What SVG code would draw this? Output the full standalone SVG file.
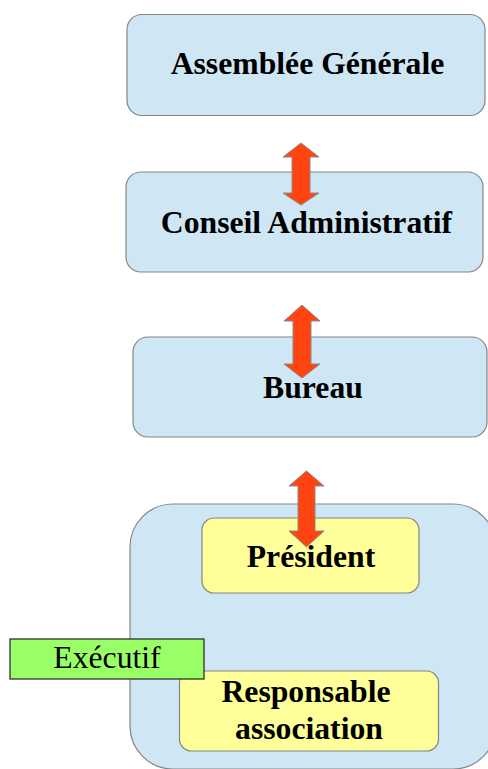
<svg xmlns="http://www.w3.org/2000/svg" width="488" height="769" viewBox="0 0 488 769">
  <style>
    .box { fill: #cfe6f4; stroke: #858585; stroke-width: 1.2; }
    .ybox { fill: #ffff99; stroke: #858585; stroke-width: 1.2; }
    .lbl { font-family: "Liberation Serif", "Times New Roman", serif; font-weight: bold; font-size: 31.7px; fill: #000; text-anchor: middle; }
    .arrow { fill: #ff4411; stroke: #8a8a8a; stroke-width: 1; }
  </style>
  <g id="assemblee">
    <rect class="box" x="127" y="14.5" width="358" height="101" rx="15"/>
    <text class="lbl" x="307.5" y="74">Assemblée Générale</text>
  </g>
  <g id="conseil">
    <rect class="box" x="126" y="172" width="357" height="100" rx="15"/>
    <text class="lbl" x="306.5" y="233">Conseil Administratif</text>
  </g>
  <g id="bureau">
    <rect class="box" x="133" y="337" width="354" height="100" rx="15"/>
    <text class="lbl" x="313" y="398">Bureau</text>
  </g>
  <g id="executif-group">
    <rect class="box" x="130" y="504" width="366" height="265" rx="43"/>
  </g>
  <g id="president">
    <rect class="ybox" x="202" y="518" width="217" height="75" rx="12"/>
    <text class="lbl" x="311" y="567">Président</text>
  </g>
  <g id="responsable">
    <rect class="ybox" x="179.5" y="671" width="259" height="80" rx="12"/>
    <text class="lbl" x="306" y="702">Responsable</text>
    <text class="lbl" x="309" y="739">association</text>
  </g>
  <g id="executif">
    <rect x="10" y="639" width="194" height="40" fill="#99ff66" stroke="#222" stroke-width="1.2"/>
    <text x="107" y="668" font-family="Liberation Serif, 'Times New Roman', serif" font-size="31.7" text-anchor="middle" fill="#000">Exécutif</text>
  </g>
  <g id="connectors">
    <polygon class="arrow" points="301,143 319,157 310,157 310,193 319,193 301,205 283,193 292,193 292,157 283,157"/>
    <polygon class="arrow" points="302,305 320,321 311,321 311,364 320,364 302,378 284,364 293,364 293,321 284,321"/>
    <polygon class="arrow" points="306.5,471 324,486 315,486 315,531 324,531 306.5,547 289,531 298,531 298,486 289,486"/>
  </g>
</svg>
